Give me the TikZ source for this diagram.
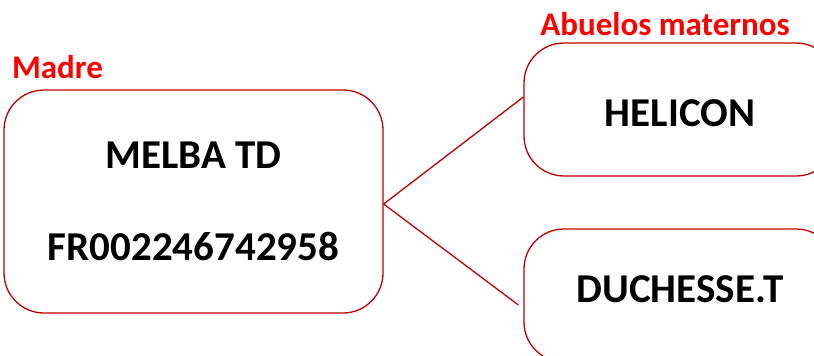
\documentclass[tikz,border=0pt]{standalone}
\usepackage{fontspec}
\setmainfont{Carlito}
\usetikzlibrary{calc}
\definecolor{boxred}{HTML}{C00000}
\definecolor{labelred}{HTML}{FF0000}
\begin{document}
\begin{tikzpicture}[x=1pt,y=-1pt,
  box/.style={draw=boxred, line width=1.3pt, rounded corners=40pt, inner sep=0pt, align=center},
  namefont/.style={font=\fontsize{41}{92}\selectfont\bfseries},
  lbl/.style={text=labelred, font=\fontsize{33}{38}\selectfont\bfseries, inner sep=0pt},
  conn/.style={draw=boxred, line width=1.3pt}]
\useasboundingbox (0,0) rectangle (814,356);
\clip (0,0) rectangle (814,356);
\node[box, namefont, minimum width=379pt, minimum height=223pt] (m) at (193.5,201.5) {MELBA TD\\FR002246742958};
\node[box, namefont, minimum width=312pt, minimum height=133pt, text height=33pt, text depth=0pt] (h) at (680,109.5) {HELICON};
\node[box, namefont, minimum width=312pt, minimum height=133pt, text height=25pt, text depth=12pt] (d) at (680,295.5) {DUCHESSE.T};
\node[lbl] (lm) at (57.5,67) {Madre};
\node[lbl] (la) at (665,24) {Abuelos maternos};
\draw[conn] ($(m.east)+(0,2.5)$) -- ($(h.west)+(0,-12.5)$);
\draw[conn] ($(m.east)+(0,2.5)$) -- ($(d.west)+(-5,9.5)$);
\end{tikzpicture}
\end{document}
